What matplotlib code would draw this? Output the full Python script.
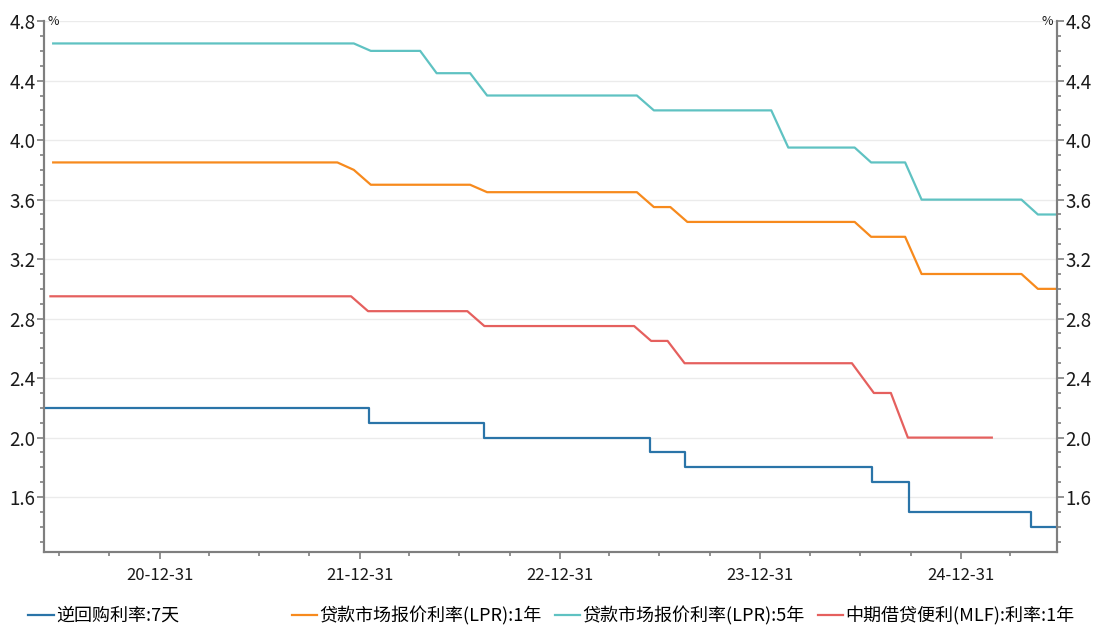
import numpy as np
import matplotlib
matplotlib.use("Agg")
import matplotlib.pyplot as plt
import matplotlib.dates as mdates
from matplotlib.lines import Line2D
import pandas as pd

plt.rcParams['font.family'] = ['Noto Sans CJK SC', 'DejaVu Sans']

# 逆回购利率:7天 (daily, step changes)
rr_dates = ["2020-06-03", "2022-01-17", "2022-08-15", "2023-06-13", "2023-08-15",
            "2024-07-22", "2024-09-27", "2025-05-08", "2025-06-24"]
rr_vals = [2.20, 2.10, 2.00, 1.90, 1.80, 1.70, 1.50, 1.40, 1.40]

# LPR monthly fixings (change months)
lpr_change_months = ["2020-06", "2021-12", "2022-01", "2022-05", "2022-08", "2023-06",
                     "2023-08", "2024-02", "2024-07", "2024-10", "2025-05"]
lpr1y_vals = [3.85, 3.80, 3.70, 3.70, 3.65, 3.55, 3.45, 3.45, 3.35, 3.10, 3.00]
lpr5y_vals = [4.65, 4.65, 4.60, 4.45, 4.30, 4.20, 4.20, 3.95, 3.85, 3.60, 3.50]
lpr_last_month = "2025-06"

# MLF 1Y monthly operations (change months)
mlf_change_months = ["2020-06", "2022-01", "2022-08", "2023-06", "2023-08", "2024-07", "2024-09"]
mlf_vals = [2.95, 2.85, 2.75, 2.65, 2.50, 2.30, 2.00]
mlf_last_month = "2025-02"

labels = ["逆回购利率:7天", "贷款市场报价利率(LPR):1年", "贷款市场报价利率(LPR):5年", "中期借贷便利(MLF):利率:1年"]
colors = ["#2a74a8", "#f78a1d", "#5fc2c2", "#e5605e"]


def monthly(change_months, vals, last_month, day):
    idx = pd.period_range(change_months[0], last_month, freq="M")
    s = pd.Series(vals, index=pd.PeriodIndex(change_months, freq="M")).reindex(idx).ffill()
    s.index = s.index.to_timestamp() + pd.Timedelta(days=day - 1)
    return s


lpr1 = monthly(lpr_change_months, lpr1y_vals, lpr_last_month, 20)
lpr5 = monthly(lpr_change_months, lpr5y_vals, lpr_last_month, 20)
mlf = monthly(mlf_change_months, mlf_vals, mlf_last_month, 15)
# MLF operations moved to the 25th from July 2024
mlf.index = [d + pd.Timedelta(days=10) if d >= pd.Timestamp("2024-07-01") else d for d in mlf.index]

fig = plt.figure(figsize=(10.96, 6.31), dpi=100)
ax = fig.add_axes([0.040, 0.125, 0.9245, 0.8415])

rr_x = pd.to_datetime(rr_dates)
ax.plot(rr_x, rr_vals, color=colors[0], lw=1.6, drawstyle="steps-post")
ax.plot(lpr1.index, lpr1.values, color=colors[1], lw=1.6)
ax.plot(lpr5.index, lpr5.values, color=colors[2], lw=1.6)
ax.plot(mlf.index, mlf.values, color=colors[3], lw=1.6)

ax.set_xlim(pd.Timestamp("2020-06-03"), pd.Timestamp("2025-06-24"))
ax.set_ylim(1.23, 4.8)

major_x = pd.to_datetime(["2020-12-31", "2021-12-31", "2022-12-31", "2023-12-31", "2024-12-31"])
minor_x = pd.date_range("2020-06-30", "2025-03-31", freq="QE")
ax.set_xticks(major_x)
ax.set_xticks(minor_x, minor=True)
ax.xaxis.set_major_formatter(mdates.DateFormatter("%y-%m-%d"))

yt = np.arange(1.6, 4.81, 0.4)
ax.set_yticks(yt)
ax.set_yticks(np.arange(1.3, 4.81, 0.1), minor=True)
ax.set_yticklabels([f"{v:.1f}" for v in yt])
ax.grid(axis="y", which="major", color="#ebebeb", lw=1.0)
ax.set_axisbelow(True)

ax2 = ax.twinx()
ax2.set_ylim(ax.get_ylim())
ax2.set_yticks(yt)
ax2.set_yticks(np.arange(1.3, 4.81, 0.1), minor=True)
ax2.set_yticklabels([f"{v:.1f}" for v in yt])

spine_c = "#7f7f7f"
for a in (ax, ax2):
    a.spines["top"].set_visible(False)
    for s in ("left", "right", "bottom"):
        a.spines[s].set_color(spine_c)
        a.spines[s].set_linewidth(1.5)
    a.tick_params(which="major", length=5, width=1.2, color=spine_c, labelsize=13.5, labelcolor="#1a1a1a", pad=1)
    a.tick_params(which="minor", length=3, width=1.2, color=spine_c)
ax.tick_params(axis="x", which="major", labelsize=12, pad=6)

ax.text(0.004, 1.0, "%", transform=ax.transAxes, fontsize=9, ha="left", va="center", color="#1a1a1a")
ax.text(0.996, 1.0, "%", transform=ax.transAxes, fontsize=9, ha="right", va="center", color="#1a1a1a")

legend_x = [0.026, 0.266, 0.506, 0.746]
for lab, c, lx in zip(labels, colors, legend_x):
    h = Line2D([], [], color=c, lw=1.6)
    fig.legend([h], [lab], loc="center left", bbox_to_anchor=(lx, 0.024), frameon=False,
               fontsize=13, handlelength=1.4, handletextpad=0.15, borderaxespad=0, borderpad=0)

fig.savefig("out.png", dpi=100)
